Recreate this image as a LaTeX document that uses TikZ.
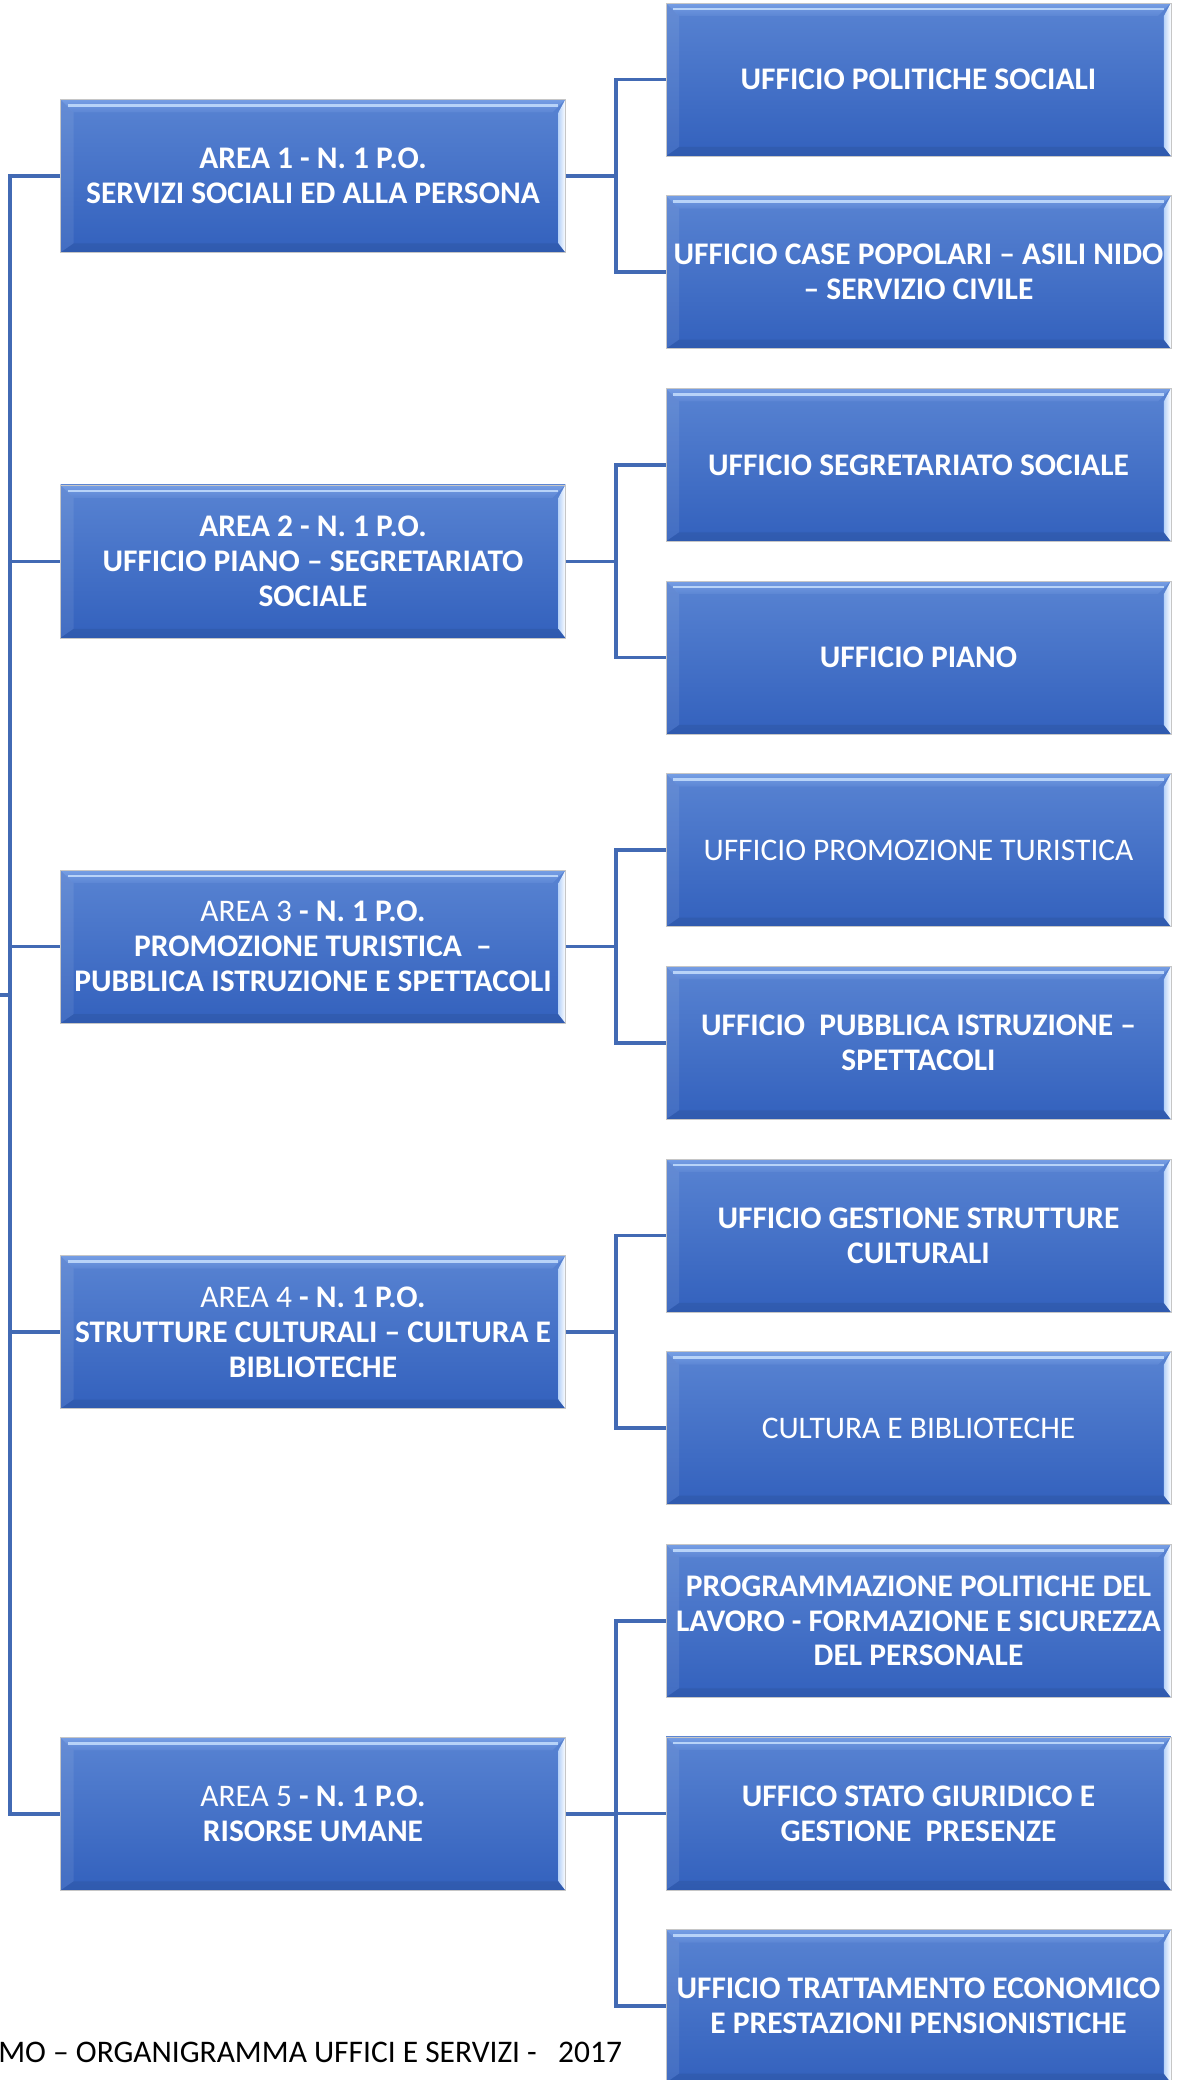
\documentclass[tikz,border=0pt]{standalone}
\usepackage{fontspec}
\setmainfont{Carlito}
\usepackage{tikz}

\definecolor{boxtop}{RGB}{88,131,210}
\definecolor{boxbot}{RGB}{51,97,189}
\definecolor{bevtop}{RGB}{118,158,228}
\definecolor{bevlow}{RGB}{92,134,212}
\definecolor{bevlite}{RGB}{184,211,248}
\definecolor{linkblue}{RGB}{66,106,180}

\begin{document}
\begin{tikzpicture}[x=0.02cm,y=-0.02cm,node distance=3.854cm,
                    bevel/.style={path picture={
                      \coordinate (nw) at (path picture bounding box.north west);
                      \coordinate (ne) at (path picture bounding box.north east);
                      \coordinate (sw) at (path picture bounding box.south west);
                      \coordinate (se) at (path picture bounding box.south east);
                      \shade[top color=bevtop,bottom color=bevlow] (nw) -- (ne) -- ([shift={(-13,13)}]ne) -- ([shift={(13,13)}]nw) -- cycle;
                      \draw[bevlite,line width=1.4pt] ([shift={(7,6)}]nw) -- ([shift={(-7,6)}]ne);
                      \fill[white,opacity=.08] (nw) -- ([shift={(13,13)}]nw) -- ([shift={(13,-9)}]sw) -- (sw) -- cycle;
                      \fill[black,opacity=.07] (sw) -- ([shift={(13,-9)}]sw) -- ([shift={(-7,-9)}]se) -- (se) -- cycle;
                      \shade[left color=bevlite,right color=white] ([shift={(-7,13)}]ne) -- (ne) -- (se) -- ([shift={(-7,-9)}]se) -- cycle;
                    }},
                    ufficio/.style={rectangle,bevel,minimum width=10.1cm,minimum height=3.06cm,
                      inner sep=0pt,align=center,text=white,
                      font=\fontsize{17.9}{19.9}\selectfont\bfseries,
                      top color=boxtop,bottom color=boxbot,draw=gray!45,line width=0.3pt},
                    link/.style={draw=linkblue,line width=2pt},
                    hv/.style={to path={|- (\tikztotarget)}}]
  \clip (0,0) rectangle (1182,2080);

  % uffici
  \node[ufficio] (r0) at (918.5,79.5) {UFFICIO POLITICHE SOCIALI};
  \node[ufficio] (r1) [below of=r0] {UFFICIO CASE POPOLARI – ASILI NIDO\\– SERVIZIO CIVILE};
  \node[ufficio] (r2) [below of=r1] {UFFICIO SEGRETARIATO SOCIALE};
  \node[ufficio] (r3) [below of=r2] {UFFICIO PIANO};
  \node[ufficio] (r4) [below of=r3] {\mdseries UFFICIO PROMOZIONE TURISTICA};
  \node[ufficio] (r5) [below of=r4] {UFFICIO\ \ PUBBLICA ISTRUZIONE –\\SPETTACOLI};
  \node[ufficio] (r6) [below of=r5] {UFFICIO GESTIONE STRUTTURE\\CULTURALI};
  \node[ufficio] (r7) [below of=r6] {\mdseries CULTURA E BIBLIOTECHE};
  \node[ufficio] (r8) [below of=r7] {PROGRAMMAZIONE POLITICHE DEL\\LAVORO - FORMAZIONE E SICUREZZA\\DEL PERSONALE};
  \node[ufficio] (r9) [below of=r8] {UFFICO STATO GIURIDICO E\\GESTIONE\ \ PRESENZE};
  \node[ufficio] (r10) [below of=r9] {UFFICIO TRATTAMENTO ECONOMICO\\E PRESTAZIONI PENSIONISTICHE};

  % aree
  \node[ufficio] (a1) at (313,175.9) {AREA 1 - N. 1 P.O.\\SERVIZI SOCIALI ED ALLA PERSONA};
  \node[ufficio] (a2) at (313,561.3) {AREA 2 - N. 1 P.O.\\UFFICIO PIANO – SEGRETARIATO\\SOCIALE};
  \node[ufficio] (a3) at (313,946.7) {{\mdseries AREA 3} - N. 1 P.O.\\PROMOZIONE TURISTICA\ \ –\\PUBBLICA ISTRUZIONE E SPETTACOLI};
  \node[ufficio] (a4) at (313,1332.1) {{\mdseries AREA 4} - N. 1 P.O.\\STRUTTURE CULTURALI – CULTURA E\\BIBLIOTECHE};
  \node[ufficio] (a5) at (313,1813.8) {{\mdseries AREA 5} - N. 1 P.O.\\RISORSE UMANE};

  \node[anchor=base west,inner sep=0pt,font=\fontsize{17.9}{19.9}\selectfont] (footer) at (-2,2062)
       {MO – ORGANIGRAMMA UFFICI E SERVIZI -\ \ \ 2017};

  \coordinate (tx) at (10,0);
  \coordinate (bx) at (616,0);
  \coordinate (root) at (0,995);

  % trunk
  \draw[link] (a1.west) -- (a1.west -| tx) -- (a5.west -| tx) -- (a5.west);
  \path[link] (root) edge (root -| tx)
        (a2.west -| tx) edge (a2.west)
        (a3.west -| tx) edge (a3.west)
        (a4.west -| tx) edge (a4.west);

  % brackets
  \path[link] (a1.east) edge (a1.east -| bx)
        (a1.east -| bx) edge[hv] (r0.west) edge[hv] (r1.west)
        (a2.east) edge (a2.east -| bx)
        (a2.east -| bx) edge[hv] (r2.west) edge[hv] (r3.west)
        (a3.east) edge (a3.east -| bx)
        (a3.east -| bx) edge[hv] (r4.west) edge[hv] (r5.west)
        (a4.east) edge (a4.east -| bx)
        (a4.east -| bx) edge[hv] (r6.west) edge[hv] (r7.west)
        (a5.east) edge (a5.east -| bx)
        (a5.east -| bx) edge[hv] (r8.west) edge[hv] (r9.west) edge[hv] (r10.west);
\end{tikzpicture}
\end{document}
